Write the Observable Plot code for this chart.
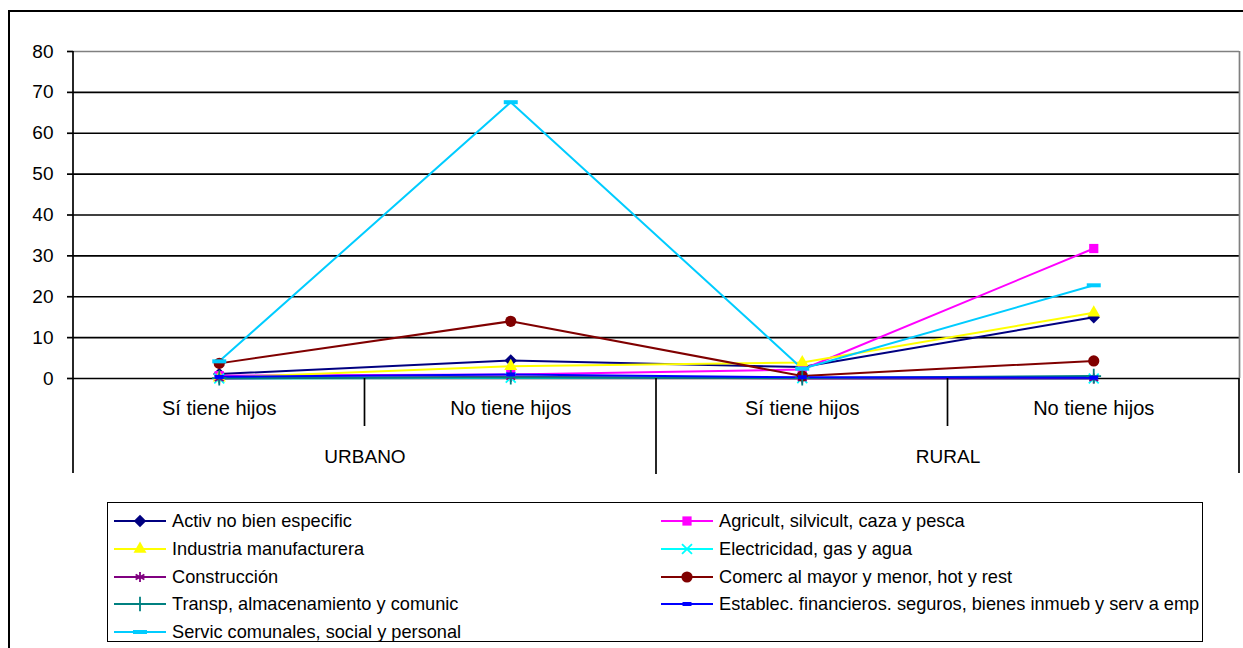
<!DOCTYPE html>
<html><head><meta charset="utf-8">
<script src="https://cdn.jsdelivr.net/npm/d3@7"></script>
<script src="https://cdn.jsdelivr.net/npm/@observablehq/plot@0.6"></script>
<style>
html,body{margin:0;padding:0;background:#fff;width:1243px;height:648px;overflow:hidden;font-family:"Liberation Sans",Arial,sans-serif;}
#frame{position:absolute;left:8px;top:10px;width:1260px;height:700px;border:2px solid #000;box-sizing:border-box;}
#chart{position:absolute;left:0;top:0;}
#legend{position:absolute;left:107px;top:502px;width:1096px;height:140px;border:1.5px solid #000;box-sizing:border-box;background:#fff;}
</style></head><body>
<div id="frame"></div>
<div id="chart"></div>
<div id="legend"></div>
<script>
// ---- data ----
const categories = ["Sí tiene hijos", "No tiene hijos", "Sí tiene hijos", "No tiene hijos"];
const groups = ["URBANO", "RURAL"];
const yTicks = [0, 10, 20, 30, 40, 50, 60, 70, 80];

const seriesNames = [
  "Activ no bien especific",
  "Agricult, silvicult, caza y pesca",
  "Industria manufacturera",
  "Electricidad, gas y agua",
  "Construcción",
  "Comerc al mayor y menor, hot y rest",
  "Transp, almacenamiento y comunic",
  "Establec. financieros. seguros, bienes inmueb y serv a emp",
  "Servic comunales, social y personal"
];
const activ        = [1.1, 4.4, 2.8, 15.0];
const agricult     = [0.7, 1.0, 2.2, 31.8];
const industria    = [0.2, 3.0, 3.9, 16.1];
const electricidad = [0.0, 0.2, 0.1, 0.0];
const construccion = [0.0, 0.4, 0.0, 0.0];
const comerc       = [3.7, 14.0, 0.6, 4.3];
const transp       = [0.1, 0.3, 0.1, 0.6];
const establec     = [0.4, 1.0, 0.3, 0.2];
const servic       = [4.2, 67.6, 2.4, 22.8];
const seriesValues = [activ, agricult, industria, electricidad, construccion, comerc, transp, establec, servic];

// ---- styles ----
const colors = ["#000080", "#FF00FF", "#FFFF00", "#00FFFF", "#800080", "#800000", "#008080", "#0000FF", "#00CCFF"];
const dash = (w, h) => ({draw(ctx) { ctx.rect(-w / 2, -h / 2, w, h); }});
const symbols = ["diamond2", "square", "triangle2", "times", "asterisk", "circle", "plus", dash(9, 4), dash(14, 4)];
const radii = [5.6, 5.2, 6.2, 4.6, 4.8, 5.6, 4.8, 4, 4];
const strokeSym = [false, false, false, true, true, false, true, false, false];
const FONT = '"Liberation Sans", Arial, sans-serif';

const rows = [];
seriesNames.forEach((name, si) => seriesValues[si].forEach((v, i) => rows.push({name, si, x: i + 0.5, y: v})));

const marks = [
  Plot.ruleY(yTicks.filter(t => t > 0 && t < 80), {stroke: "#000", strokeWidth: 1.7}),
  Plot.ruleY([80], {stroke: "#808080", strokeWidth: 1.7}),
  Plot.ruleX([4], {stroke: "#808080", strokeWidth: 1.7}),
  Plot.ruleY([0], {stroke: "#000", strokeWidth: 1.7})
];
seriesNames.forEach((name, si) => {
  const d = rows.filter(r => r.si === si);
  marks.push(Plot.line(d, {x: "x", y: "y", stroke: colors[si], strokeWidth: 2}));
});
seriesNames.forEach((name, si) => {
  const d = rows.filter(r => r.si === si);
  marks.push(Plot.dot(d, strokeSym[si]
    ? {x: "x", y: "y", symbol: symbols[si], r: radii[si], stroke: colors[si], fill: "none", strokeWidth: 1.8}
    : {x: "x", y: "y", symbol: symbols[si], r: radii[si], fill: colors[si], stroke: "none"}));
});
marks.push(Plot.axisY({ticks: yTicks, tickSize: 6, tickPadding: 14, label: null, fontSize: 19, stroke: "#000", strokeWidth: 1.7}));
marks.push(Plot.text(categories.map((c, i) => ({c, x: i + 0.5})), {x: "x", text: "c", frameAnchor: "bottom", dy: 36, fontSize: 20, fill: "#000"}));
marks.push(Plot.text(groups.map((g, i) => ({g, x: 2 * i + 1})), {x: "x", text: "g", frameAnchor: "bottom", dy: 84, fontSize: 19, fill: "#000"}));

const plot = Plot.plot({
  width: 1243, height: 480,
  marginLeft: 73, marginRight: 4, marginTop: 51, marginBottom: 102,
  x: {domain: [0, 4], axis: null},
  y: {domain: [0, 80]},
  style: {fontFamily: FONT, fontSize: "19px", color: "#000", background: "transparent", overflow: "visible"},
  marks
});
document.getElementById("chart").appendChild(plot);

// category axis lines using the plot's scales
const svg = d3.select(plot);
const xs = plot.scale("x"), ys = plot.scale("y");
const y0 = ys.apply(0), yTop = ys.apply(80);
function vline(x, a, b, color) {
  svg.append("line").attr("x1", x).attr("x2", x).attr("y1", a).attr("y2", b)
    .attr("stroke", color || "#000").attr("stroke-width", 1.7);
}
vline(xs.apply(0), yTop, y0 + 95);
[1, 3].forEach(v => vline(xs.apply(v), y0, y0 + 48));
vline(xs.apply(2), y0, y0 + 96);
vline(xs.apply(4), y0, y0 + 95);

// ---- legend ----
const lg = d3.select("#legend").append("svg").attr("width", 1094).attr("height", 138).style("position", "absolute").style("left", "0").style("top", "0");
const colX = [6, 553];
const rowY = [18, 46, 74, 101, 129];
seriesNames.forEach((name, si) => {
  const cx = colX[si % 2], cy = rowY[Math.floor(si / 2)];
  const g = lg.append("g").attr("transform", `translate(${cx},${cy})`);
  g.append("line").attr("x1", 0).attr("x2", 52).attr("y1", 0).attr("y2", 0).attr("stroke", colors[si]).attr("stroke-width", 2);
  const symType = typeof symbols[si] === "string"
    ? {diamond2: d3.symbolDiamond2, square: d3.symbolSquare, triangle2: d3.symbolTriangle2, times: d3.symbolTimes, asterisk: d3.symbolAsterisk, circle: d3.symbolCircle, plus: d3.symbolPlus}[symbols[si]]
    : symbols[si];
  const path = d3.symbol(symType, radii[si] * radii[si] * Math.PI)();
  const p = g.append("path").attr("d", path).attr("transform", "translate(26,0)");
  if (strokeSym[si]) p.attr("fill", "none").attr("stroke", colors[si]).attr("stroke-width", 1.8);
  else p.attr("fill", colors[si]);
  g.append("text").attr("x", 58).attr("y", 0).attr("dy", "0.35em").attr("font-family", FONT).attr("font-size", 18.2).attr("fill", "#000").text(name);
});
</script>
</body></html>
